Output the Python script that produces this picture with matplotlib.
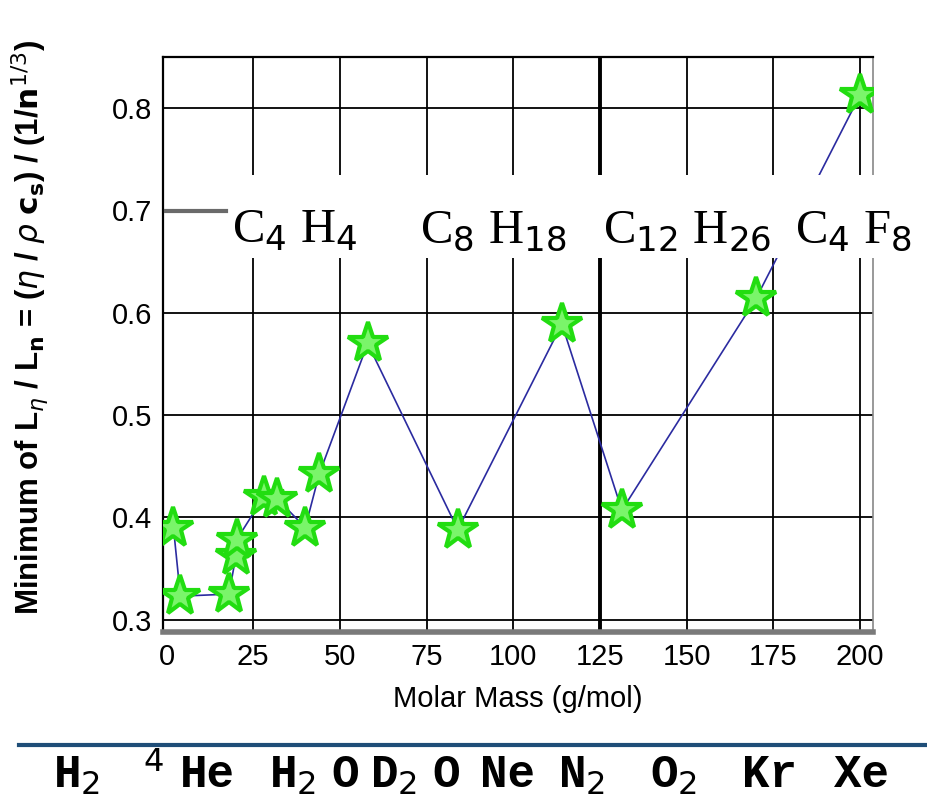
import matplotlib
matplotlib.use('Agg')
import matplotlib.pyplot as plt
from matplotlib.patches import Rectangle
from matplotlib.lines import Line2D

# molar mass (g/mol) and minimum of L_eta / L_n
molar_mass = [2, 4, 18, 20, 20.2, 28, 32, 40, 44, 58, 84, 114, 131.3, 170, 200]
min_ratio = [0.39, 0.323, 0.325, 0.362, 0.378, 0.42, 0.418, 0.39, 0.442,
             0.57, 0.388, 0.589, 0.407, 0.614, 0.813]

x_ticks = [0, 25, 50, 75, 100, 125, 150, 175, 200]
y_ticks = [0.3, 0.4, 0.5, 0.6, 0.7, 0.8]
heavy_labels = [r'C$_4$ H$_4$', r'C$_8$ H$_{18}$', r'C$_{12}$ H$_{26}$', r'C$_4$ F$_8$']
gas_labels = [r'H$_2$', r'$^4$', 'He', r'H$_2\;$O', r'D$_2\;$O', 'Ne', r'N$_2$', r'O$_2$', 'Kr', 'Xe']
gas_px = [53, 143, 180, 269, 370, 480, 558, 650, 742, 834]

sans = ['Liberation Sans', 'DejaVu Sans']

fig = plt.figure(figsize=(9.28, 8.10), dpi=100)
ax = fig.add_axes([0.1757, 0.2198, 0.7650, 0.7098])

ax.plot(molar_mass, min_ratio, color='#2b2ba0', lw=1.2, zorder=3)
ax.plot(molar_mass, min_ratio, linestyle='none', marker='*', ms=30,
        markerfacecolor='#7af56a', markeredgecolor='#22dd11', mew=3, zorder=4)

ax.set_xlim(-1, 203.7)
ax.set_ylim(0.288, 0.85)
ax.set_xticks(x_ticks)
ax.set_yticks(y_ticks)
ax.set_xticklabels([str(v) for v in x_ticks], family=sans, fontsize=21)
ax.set_yticklabels(['%.1f' % v for v in y_ticks], family=sans, fontsize=21)
ax.tick_params(length=0, pad=8)

for v in x_ticks[1:]:
    ax.axvline(v, color='black', lw=2.8 if v == 125 else 1.3, zorder=1)
for v in y_ticks:
    ax.axhline(v, color='black', lw=1.3, zorder=1)

for s in ['left', 'top']:
    ax.spines[s].set_linewidth(1.6)
ax.spines['right'].set_color('#888888')
ax.spines['right'].set_linewidth(1.2)
ax.spines['bottom'].set_color('#7a7a7a')
ax.spines['bottom'].set_linewidth(4)

ax.set_xlabel('Molar Mass (g/mol)', family=sans, fontsize=21, labelpad=10)
ax.set_ylabel(r'Minimum of L$_\eta$ / L$_\mathbf{n}$ = ($\eta$ / $\rho$ $\mathbf{c_s}$) / (1/$\mathbf{n}^{1/3}$)',
              family=sans, fontweight='bold', fontsize=22.5)
ax.yaxis.set_label_coords(-0.159, 0.53)

# white band with the heavy molecule labels
fig.add_artist(Rectangle((0.178, 0.682), 0.815, 0.102, transform=fig.transFigure,
                         facecolor='white', edgecolor='none', zorder=1))
fig.add_artist(Line2D([0.179, 0.243], [0.7395, 0.7395], transform=fig.transFigure,
                      color='#6a6a6a', lw=3, zorder=2))
for label, xpos in zip(heavy_labels, [0.250, 0.453, 0.650, 0.857]):
    fig.text(xpos, 0.700, label, family='Liberation Serif', fontsize=35,
             va='baseline', ha='left')

# bottom line with gases
fig.add_artist(Line2D([0.02, 1.0], [0.080, 0.080], transform=fig.transFigure,
                      color='#1f4e78', lw=3))
for label, px in zip(gas_labels, gas_px):
    fig.text(px / 928, 0.028, label, family='Liberation Mono', fontweight='bold',
             fontsize=33, va='baseline', ha='left')

fig.savefig('out.png', dpi=100)
